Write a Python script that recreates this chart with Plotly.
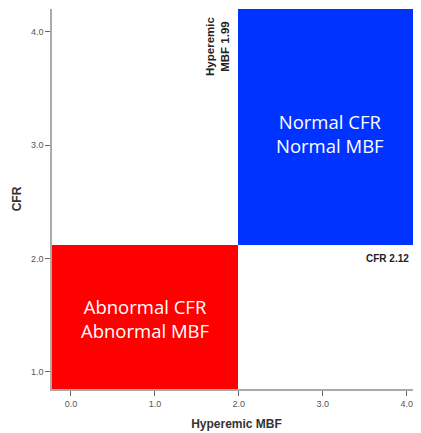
import plotly.graph_objects as go

# Thresholds (cut-offs)
mbf_cut = 1.99
cfr_cut = 2.12

x_ticks = [0.0, 1.0, 2.0, 3.0, 4.0]
y_ticks = [1.0, 2.0, 3.0, 4.0]
x_range = [-0.226, 4.17]
y_range = [0.85, 4.2]

quadrant_labels = ["Normal CFR<br>Normal MBF", "Abnormal CFR<br>Abnormal MBF"]

fig = go.Figure()
# invisible trace so axes render
fig.add_trace(go.Scatter(x=[None], y=[None], mode="markers", showlegend=False))

fig.add_shape(type="rect", xref="x", yref="y", x0=x_range[0], x1=mbf_cut,
              y0=y_range[0], y1=cfr_cut, fillcolor="#ff0000", line_width=0, layer="below")
fig.add_shape(type="rect", xref="x", yref="y", x0=mbf_cut, x1=x_range[1],
              y0=cfr_cut, y1=y_range[1], fillcolor="#0033ff", line_width=0, layer="below")

fig.add_annotation(x=(mbf_cut + x_range[1]) / 2, y=3.1, xref="x", yref="y",
                   text=quadrant_labels[0], showarrow=False,
                   font=dict(family="Open Sans", size=18.5, color="white"))
fig.add_annotation(x=(x_range[0] + mbf_cut) / 2, y=1.47, xref="x", yref="y",
                   text=quadrant_labels[1], showarrow=False,
                   font=dict(family="Open Sans", size=18.5, color="white"))

fig.add_annotation(x=mbf_cut, y=3.87, xref="x", yref="y", xanchor="right",
                   text="<b>Hyperemic<br>MBF 1.99</b>", textangle=-90, showarrow=False,
                   font=dict(family="Liberation Sans", size=11.5, color="#222"), xshift=-5)
fig.add_annotation(x=4.05, y=cfr_cut, xref="x", yref="y", xanchor="right", yanchor="top",
                   text="<b>CFR 2.12</b>", showarrow=False,
                   font=dict(family="Liberation Sans", size=10, color="#222"), yshift=-6)

axis_common = dict(showgrid=False, zeroline=False, showline=True, linecolor="#aaaaaa",
                   linewidth=1.5, ticks="outside", ticklen=5, tickcolor="#666666",
                   automargin=False,
                   tickfont=dict(family="Liberation Sans", size=9, color="#555555"))

fig.update_xaxes(range=x_range, tickvals=x_ticks, ticktext=[f"{v:.1f}" for v in x_ticks],
                 title=dict(text="<b>Hyperemic MBF</b>", standoff=12,
                            font=dict(family="Liberation Sans", size=12, color="#333")),
                 **axis_common)
fig.update_yaxes(range=y_range, tickvals=y_ticks, ticktext=[f"{v:.1f}" for v in y_ticks],
                 title=dict(text="<b>CFR</b>", standoff=7,
                            font=dict(family="Liberation Sans", size=12, color="#333")),
                 **axis_common)

# page body adds an 8px margin, so the figure is sized to fit inside the window
fig.update_layout(width=413, height=425, margin=dict(l=44, r=0, t=1, b=44),
                  plot_bgcolor="white", paper_bgcolor="white", showlegend=False)

fig.write_html("out.html")
